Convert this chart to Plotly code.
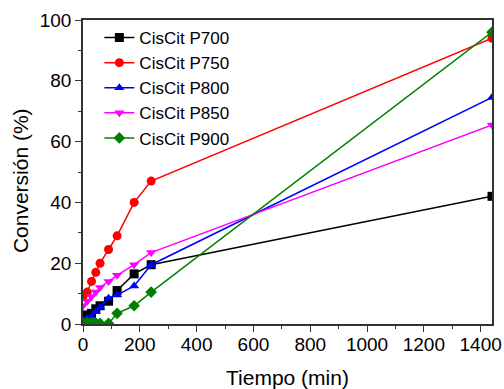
import plotly.graph_objects as go

time_min = [0, 15, 30, 45, 60, 90, 120, 180, 240, 1440]
p700 = [2.5, 3.0, 3.5, 5.0, 6.0, 7.5, 11.0, 16.5, 19.5, 42.0]
p750 = [9.0, 10.5, 14.0, 17.0, 20.0, 24.5, 29.0, 40.0, 47.0, 94.0]
p800 = [1.0, 2.0, 2.5, 4.0, 5.5, 8.5, 9.5, 12.5, 19.5, 74.5]
p850 = [6.0, 7.5, 9.0, 10.5, 12.0, 14.0, 16.0, 19.5, 23.5, 65.5]
p900 = [0.5, 0.5, 0.5, 0.3, 0.2, 0.2, 3.5, 6.0, 10.5, 96.0]

series = [
    ("CisCit P700", p700, "black", "square"),
    ("CisCit P750", p750, "red", "circle"),
    ("CisCit P800", p800, "blue", "triangle-up"),
    ("CisCit P850", p850, "magenta", "triangle-down"),
    ("CisCit P900", p900, "green", "diamond"),
]

fig = go.Figure()
for name, vals, color, sym in series:
    fig.add_trace(go.Scatter(
        x=time_min, y=vals, name=name, mode="lines+markers",
        line=dict(color=color, width=1.5),
        marker=dict(symbol=sym, size=9, color=color),
        cliponaxis=True,
    ))

font = "Liberation Sans, Arial, sans-serif"
axis_common = dict(
    showline=True, linecolor="#333", linewidth=1.5, mirror=True,
    ticks="outside", ticklen=6, tickwidth=1.2, tickcolor="#333",
    showgrid=False, zeroline=False, automargin=False,
    tickfont=dict(family=font, size=19, color="black"),
    minor=dict(ticks="outside", ticklen=3, tickwidth=1, tickcolor="#333"),
)

fig.update_layout(
    width=504, height=389,
    margin=dict(l=83, r=12, t=20, b=65),
    paper_bgcolor="white", plot_bgcolor="white",
    font=dict(family=font, color="black"),
    xaxis=dict(range=[0, 1440], tickvals=[0, 200, 400, 600, 800, 1000, 1200, 1400],
               title=None, ticklabelstandoff=-4, **axis_common),
    yaxis=dict(range=[0, 100], tickvals=[0, 20, 40, 60, 80, 100],
               title=None, **axis_common),
    legend=dict(x=0.04, y=1.0, xanchor="left", yanchor="top",
                bgcolor="rgba(0,0,0,0)", font=dict(family=font, size=17),
                tracegroupgap=0),
    showlegend=True,
)
fig.update_xaxes(minor=dict(dtick=100, tick0=0))
fig.update_yaxes(minor=dict(dtick=10, tick0=0))

fig.add_annotation(
    text="Conversión (%)", xref="paper", yref="paper",
    x=(20 - 83) / 409, y=0.47, xanchor="center", yanchor="middle",
    textangle=-90, showarrow=False, font=dict(family=font, size=21, color="black"),
)
fig.add_annotation(
    text="Tiempo (min)", xref="paper", yref="paper",
    x=0.5, y=-(377 - 324) / 304, xanchor="center", yanchor="middle",
    showarrow=False, font=dict(family=font, size=21, color="black"),
)

fig.write_html(
    "out.html",
    config={"displayModeBar": False},
    post_script="document.body.style.margin='0';document.body.style.overflow='hidden';",
)
